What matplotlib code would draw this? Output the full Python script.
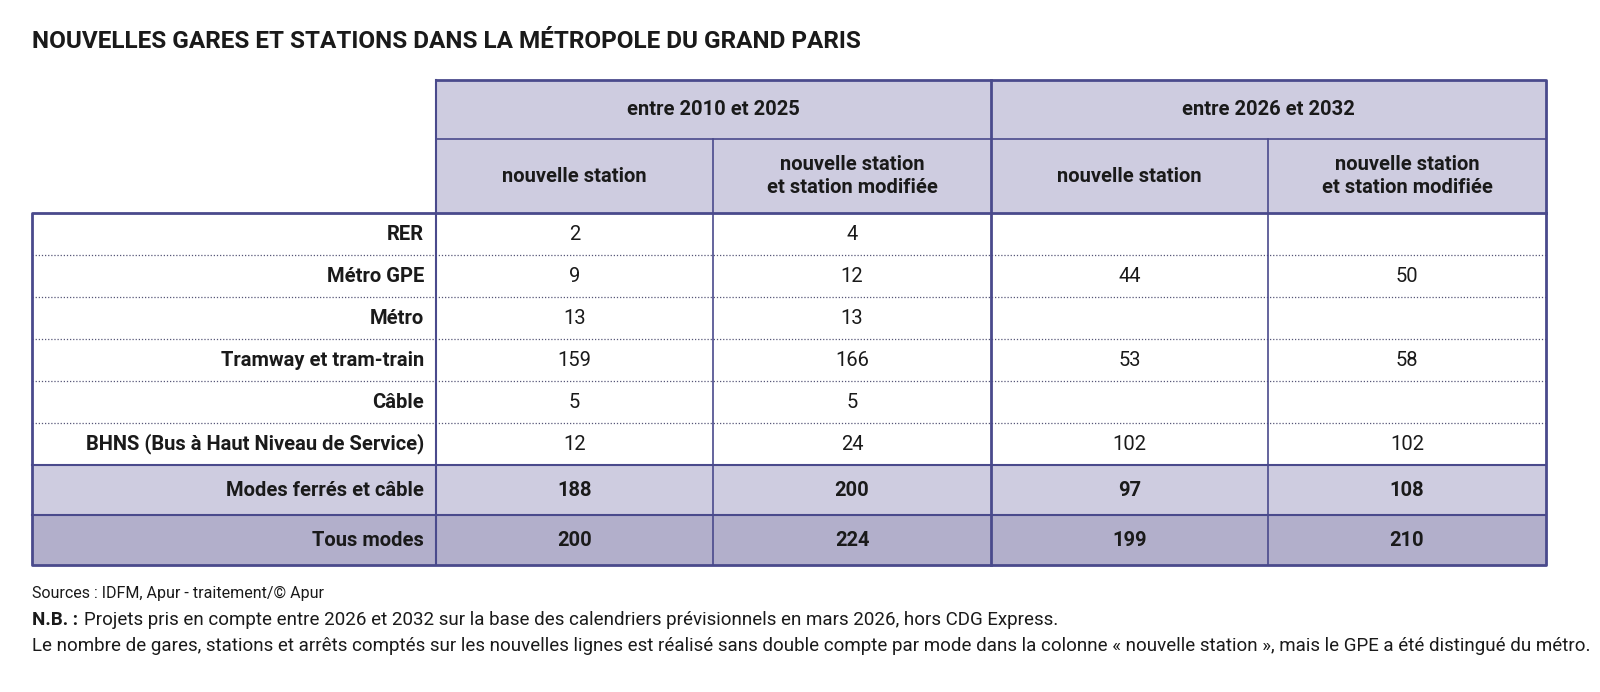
import matplotlib.pyplot as plt
from matplotlib.patches import Rectangle

plt.rcParams['font.family'] = ['Roboto', 'DejaVu Sans']

titre = "NOUVELLES GARES ET STATIONS DANS LA MÉTROPOLE DU GRAND PARIS"
periodes = ['entre 2010 et 2025', 'entre 2026 et 2032']
sous_colonnes = ['nouvelle station', 'nouvelle station\net station modifiée',
                 'nouvelle station', 'nouvelle station\net station modifiée']
modes = ['RER', 'Métro GPE', 'Métro', 'Tramway et tram-train', 'Câble',
         'BHNS (Bus à Haut Niveau de Service)']
valeurs = [['2', '4', '', ''],
           ['9', '12', '44', '50'],
           ['13', '13', '', ''],
           ['159', '166', '53', '58'],
           ['5', '5', '', ''],
           ['12', '24', '102', '102']]
totaux_noms = ['Modes ferrés et câble', 'Tous modes']
totaux = [['188', '200', '97', '108'],
          ['200', '224', '199', '210']]
source = "Sources : IDFM, Apur - traitement/© Apur"
nb = ("Projets pris en compte entre 2026 et 2032 sur la base des calendriers prévisionnels en mars 2026, hors CDG Express.")
nb2 = ("Le nombre de gares, stations et arrêts comptés sur les nouvelles lignes est réalisé sans double compte par mode "
       "dans la colonne « nouvelle station », mais le GPE a été distingué du métro.")

bord = '#4a4a8c'
clair = '#cecce0'
fonce = '#b2afcb'
texte = '#1a1a1a'

fig = plt.figure(figsize=(16, 6.92), dpi=100)
ax = fig.add_axes([0, 0, 1, 1])
ax.set_xlim(0, 1600)
ax.set_ylim(692, 0)
ax.axis('off')

xs = [32, 436, 713, 991, 1268, 1546]
y_h1, y_h2, y_d = 80, 139, 213
h_row = 42
y_tot = y_d + h_row * len(modes)
h_tot = 50
y_fin = y_tot + h_tot * len(totaux)

ax.text(32, 42, titre, fontsize=17.5, fontweight='bold', va='center', color=texte)

# en-tête
ax.add_patch(Rectangle((xs[1], y_h1), xs[5] - xs[1], y_d - y_h1, fc=clair, ec='none'))
for i, p in enumerate(periodes):
    x0, x1 = xs[1 + 2 * i], xs[3 + 2 * i]
    ax.text((x0 + x1) / 2, (y_h1 + y_h2) / 2, p, ha='center', va='center',
            fontsize=14.5, fontweight='bold', color=texte)
for j, s in enumerate(sous_colonnes):
    ax.text((xs[j + 1] + xs[j + 2]) / 2, (y_h2 + y_d) / 2, s, ha='center', va='center',
            fontsize=14.5, fontweight='bold', color=texte, linespacing=1.3)

# lignes de données
for i, (m, vals) in enumerate(zip(modes, valeurs)):
    yc = y_d + h_row * (i + 0.5)
    ax.text(xs[1] - 12, yc, m, ha='right', va='center', fontsize=14.5, fontweight='bold', color=texte)
    for j, v in enumerate(vals):
        ax.text((xs[j + 1] + xs[j + 2]) / 2, yc, v, ha='center', va='center', fontsize=14.5, color=texte)
    if i > 0:
        y = y_d + h_row * i
        ax.plot([xs[0], xs[5]], [y, y], color='#555577', lw=0.9, ls=(0, (1, 1.5)))

# totaux
for i, (m, vals) in enumerate(zip(totaux_noms, totaux)):
    y0 = y_tot + h_tot * i
    ax.add_patch(Rectangle((xs[0], y0), xs[5] - xs[0], h_tot, fc=[clair, fonce][i], ec='none'))
    yc = y0 + h_tot / 2
    ax.text(xs[1] - 12, yc, m, ha='right', va='center', fontsize=14.5, fontweight='bold', color=texte)
    for j, v in enumerate(vals):
        ax.text((xs[j + 1] + xs[j + 2]) / 2, yc, v, ha='center', va='center',
                fontsize=14.5, fontweight='bold', color=texte)
    ax.plot([xs[0], xs[5]], [y0, y0], color=bord, lw=1.5)

# bordures
ax.plot([xs[1], xs[5], xs[5], xs[0], xs[0], xs[5]], [y_h1, y_h1, y_fin, y_fin, y_d, y_d], color=bord, lw=2)
ax.plot([xs[1], xs[1]], [y_h1, y_fin], color=bord, lw=1.5)
ax.plot([xs[3], xs[3]], [y_h1, y_fin], color=bord, lw=2)
ax.plot([xs[1], xs[5]], [y_h2, y_h2], color=bord, lw=1.2)
for k in (2, 4):
    ax.plot([xs[k], xs[k]], [y_h2, y_fin], color=bord, lw=1.2)

ax.text(32, 593, source, fontsize=11.5, va='center', color=texte)
ax.text(32, 620, "N.B. :", fontsize=13.5, fontweight='bold', va='center', color=texte)
ax.text(84, 620, nb, fontsize=13.5, va='center', color=texte)
ax.text(32, 646, nb2, fontsize=13.5, va='center', color=texte)

fig.savefig('out.png', dpi=100)
